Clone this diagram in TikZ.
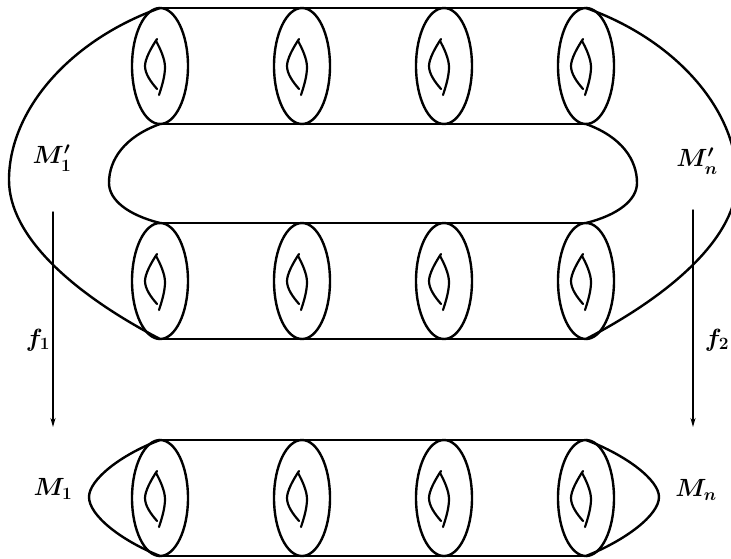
\documentclass[tikz,border=0pt]{standalone}
\usetikzlibrary{arrows.meta}
\begin{document}
\begin{tikzpicture}[x=1pt,y=-1pt,
  line width=2.4pt, line join=round, line cap=round,
  lab/.style={font=\fontsize{25}{28}\selectfont\boldmath, inner sep=0pt},
  maparrow/.style={line width=1.4pt, -{Stealth[length=9pt,width=5pt]}},
  handle/.pic={
    \draw[line width=2.2pt] (-3,-27) .. controls (-9,-18) and (-15,-7) .. (-15,0)
        .. controls (-15,8) and (-9,16) .. (-3,23);
    \draw[line width=2.2pt] (-4,-25) .. controls (0,-18) and (5,-7) .. (5,1)
        .. controls (5,10) and (2,20) .. (-1,29);
  }]
\useasboundingbox (0,0) rectangle (731,558);
% ellipses with handles
\foreach \cy/\nm in {66/a,281/b,498/c}{
  \foreach \cx [count=\i] in {160,302,444,586}{
    \coordinate (\nm\i) at (\cx,\cy);
    \draw (\nm\i) ellipse [x radius=28, y radius=58];
    \pic at (\nm\i) {handle};
  }
}
% cylinder lines
\draw (160,8) -- (586,8);
\draw (160,124) -- (586,124);
\draw (160,223) -- (586,223);
\draw (160,339) -- (586,339);
\draw (160,440) -- (586,440);
\draw (160,556) -- (586,556);
% outer surface
\draw (160,8) .. controls (70,40) and (9,110) .. (9,180)
      .. controls (9,235) and (70,292) .. (160,339);
\draw (586,8) .. controls (676,40) and (737,110) .. (737,180)
      .. controls (737,235) and (676,292) .. (586,339);
% inner hole
\draw (160,124) .. controls (124,137) and (109,160) .. (109,183)
      .. controls (109,200) and (128,215) .. (160,223);
\draw (586,124) .. controls (622,137) and (637,160) .. (637,183)
      .. controls (637,200) and (618,215) .. (586,223);
% bottom caps
\draw (160,440) .. controls (120,455) and (89,480) .. (89,497)
      .. controls (89,515) and (120,540) .. (160,556);
\draw (586,440) .. controls (626,455) and (659,480) .. (659,497)
      .. controls (659,515) and (626,540) .. (586,556);
% maps
\coordinate (f1s) at (53,212);
\coordinate (f1e) at (53,427);
\coordinate (f2s) at (693,210);
\coordinate (f2e) at (693,427);
\draw[maparrow] (f1s) -- (f1e);
\draw[maparrow] (f2s) -- (f2e);
% labels
\node[lab] (Mp1) at (52,158) {$M_1'$};
\node[lab] (Mpn) at (697,161) {$M_n'$};
\node[lab] (M1) at (53,489) {$M_1$};
\node[lab] (Mn) at (696,490) {$M_n$};
\node[lab] (f1) at (38,340) {$f_1$};
\node[lab] (f2) at (717,340) {$f_2$};
\end{tikzpicture}
\end{document}
